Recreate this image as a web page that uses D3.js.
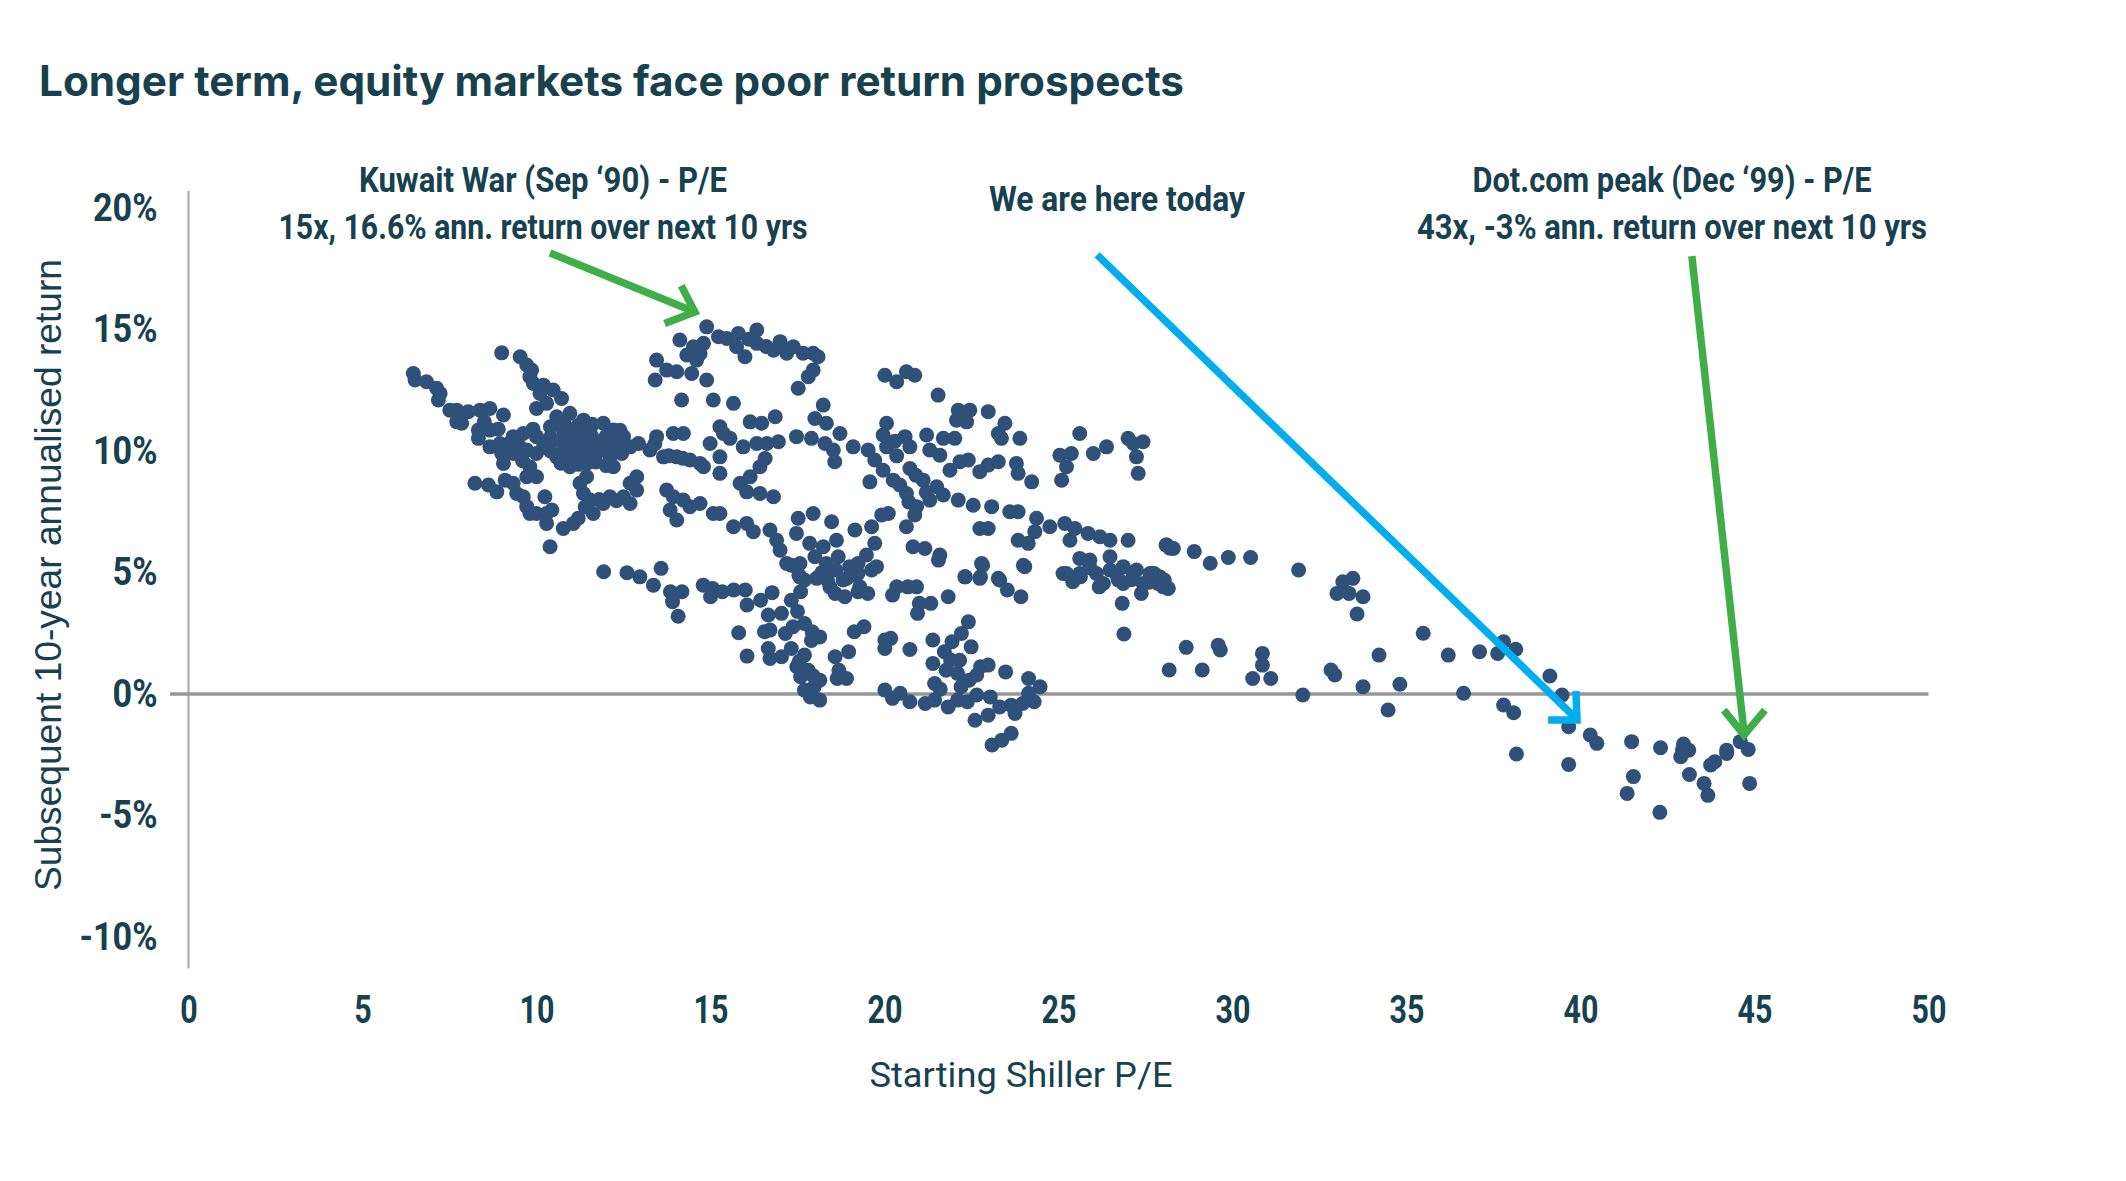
<!DOCTYPE html>
<html>
<head>
<meta charset="utf-8">
<script src="https://cdn.jsdelivr.net/npm/d3@7"></script>
<style>
  body { margin:0; background:#fff; }
  svg { display:block; }
</style>
</head>
<body>
<svg id="chart" width="2126" height="1181"></svg>
<script>
// ---- data ----
var xTicks = [0,5,10,15,20,25,30,35,40,45,50];
var yTicks = [-10,-5,0,5,10,15,20];

// [starting Shiller P/E, subsequent 10y annualised return %]
var points = [
 // 6-13x arm
 [6.46,13.19],[6.51,12.92],[6.84,12.85],[7.13,12.58],[7.23,12.37],[7.18,12.10],[7.51,11.68],[7.71,11.68],
 [8.04,11.62],[7.71,11.20],[7.85,11.14],[8.38,11.68],[8.66,11.75],[9.05,11.48],[8.33,10.86],[8.33,10.52],
 [8.66,10.86],[8.66,10.17],[8.95,10.31],[9.05,9.49],[9.33,10.59],[9.33,9.90],[9.62,10.72],[9.72,10.04],
 [9.81,9.35],[10.00,8.94],[9.72,8.94],[10.00,10.59],[10.20,10.17],
 [8.50,11.20],[8.90,10.90],[9.20,10.30],[9.50,10.20],[9.00,9.90],[9.60,9.60],[10.00,9.90],[9.90,10.90],
 [10.58,11.41],[10.96,11.55],[11.35,11.27],[10.77,10.86],[11.15,10.86],[11.54,10.86],[11.92,11.14],[12.21,10.86],
 [12.50,10.59],[10.39,10.31],[10.77,10.31],[11.15,10.31],[11.54,10.31],[11.92,10.31],[12.30,10.31],[12.69,10.17],
 [10.58,9.76],[10.96,9.76],[11.35,9.76],[11.73,9.90],[12.11,9.76],[10.96,9.35],[11.44,9.49],[12.21,9.35],[12.93,10.31],
 [10.40,11.00],[10.80,11.10],[11.20,11.05],[11.60,11.10],[12.00,10.60],[12.40,10.85],[10.40,10.55],[10.80,10.60],
 [11.20,10.60],[11.60,10.55],[12.00,10.05],[12.40,10.00],[10.40,10.00],[10.80,10.05],[11.20,10.05],[11.60,10.05],
 [10.70,9.50],[11.20,9.45],[11.70,9.55],[12.00,9.40],[12.45,9.90],
 [9.00,14.04],[9.53,13.88],[9.72,13.54],[9.86,13.33],[9.81,13.06],[9.91,12.78],[10.20,12.71],[10.48,12.51],
 [10.72,12.16],[10.00,11.75],[10.29,11.96],[10.10,12.37],
 [8.23,8.67],[8.62,8.60],[8.86,8.32],[9.10,8.80],[9.33,8.67],[9.43,8.25],[9.62,8.12],[9.72,7.71],[9.81,7.43],
 [10.00,7.43],[10.29,7.43],[10.44,7.57],[10.29,7.02],[10.24,8.12],[10.77,6.81],[11.06,7.02],[11.20,7.23],[10.39,6.06],
 [11.25,8.67],[11.44,8.94],[11.35,8.25],[11.54,7.98],[11.63,7.43],[11.92,7.84],[12.11,8.12],[12.50,8.12],
 [12.69,7.84],[12.88,8.39],[12.88,8.94],[12.69,8.67],[11.40,7.70],[11.80,8.00],[12.30,7.95],
 // 13-17x
 [13.45,10.59],[13.26,10.04],[13.65,9.76],[14.03,9.76],[14.41,9.63],[14.70,9.49],[14.80,9.35],[13.93,10.72],
 [14.22,10.72],[13.74,8.39],[13.93,8.12],[14.22,7.98],[13.84,7.57],[14.03,7.16],[14.41,7.71],[14.70,7.84],
 [15.08,7.43],[15.27,7.43],[15.66,6.88],[16.04,7.02],[16.23,6.68],[16.71,6.75],[16.90,6.33],[17.00,5.92],[17.19,5.37],
 [15.27,11.00],[15.37,10.72],[14.99,10.31],[15.56,10.52],[15.27,9.76],[15.27,9.08],[15.94,10.17],[16.33,10.31],
 [16.62,10.31],[16.95,10.38],[16.14,11.20],[16.47,11.14],[16.86,11.41],[15.85,8.67],[16.14,8.94],[16.42,9.35],
 [16.57,9.69],[16.04,8.32],[16.42,8.25],[16.81,8.12],[13.40,10.30],[13.80,9.80],[14.20,9.70],
 [14.12,14.57],[14.89,15.11],[14.51,14.29],[14.80,14.43],[14.32,13.95],[14.60,13.74],[13.45,13.74],[13.74,13.33],
 [14.03,13.26],[13.41,12.92],[14.46,13.19],[14.89,12.92],[15.23,14.70],[15.47,14.63],[15.80,14.84],[15.75,14.29],
 [15.99,13.88],[16.33,14.98],[16.33,14.43],[16.81,14.15],[17.00,14.50],[17.19,14.02],[14.17,12.10],[15.08,12.10],[15.66,11.96],
 [14.70,14.00],[16.10,14.60],[16.60,14.30],
 // 17-29x upper band
 [17.38,14.29],[17.66,14.02],[17.95,14.02],[18.09,13.88],[17.95,13.33],[17.81,13.06],[17.52,12.58],[20.01,13.12],
 [20.35,12.85],[20.63,13.26],[20.87,13.12],[21.54,12.30],[22.12,11.68],[22.45,11.68],[22.07,11.27],[22.36,11.20],
 [22.98,11.62],[23.46,11.14],[23.27,10.72],[23.36,10.52],[23.89,10.52],[25.61,10.72],[25.04,9.83],[25.37,9.90],
 [25.23,9.35],[25.09,8.80],[26.00,9.90],[26.38,10.17],[27.00,10.52],[27.43,10.38],[27.24,9.76],[27.29,9.08],[27.15,10.31],
 [18.24,11.89],[18.00,11.34],[18.33,11.14],[17.47,10.59],[17.90,10.52],[18.29,10.31],[18.72,10.72],[18.53,10.04],
 [18.57,9.56],[19.10,10.17],[19.53,10.04],[19.58,8.73],[20.06,11.14],[19.96,10.66],[20.06,10.17],[19.72,9.63],
 [19.96,9.21],[20.25,8.80],[20.59,10.59],[20.73,10.17],[21.21,10.66],[21.30,10.04],[21.59,9.83],[21.69,10.52],
 [22.02,10.52],[20.73,9.28],[20.44,8.60],[20.63,8.25],[21.11,8.80],[21.50,8.53],[21.69,8.19],[22.12,7.98],
 [21.30,7.98],[20.92,7.71],[20.87,7.37],[20.63,6.88],[21.88,9.21],[22.17,9.56],[22.41,9.63],[22.74,9.15],
 [22.98,9.42],[23.27,9.56],[23.79,9.49],[23.84,9.08],[24.23,8.73],[22.55,7.77],[23.08,7.71],[23.60,7.50],
 [23.84,7.50],[22.74,6.81],[22.98,6.81],[24.37,7.23],[24.75,6.88],[24.32,6.68],[23.84,6.33],[24.13,6.20],
 [25.18,7.02],[25.47,6.81],[25.33,6.33],[25.85,6.61],[26.19,6.47],[26.48,6.33],[27.00,6.33],[28.11,6.13],[28.30,5.99],
 [20.35,9.80],[20.90,9.00],[21.20,8.30],[20.70,7.90],[20.30,10.40],
 [25.61,5.58],[25.90,5.51],[26.48,5.65],[25.23,4.96],[25.61,4.96],[26.09,4.96],[26.48,5.10],[26.86,5.24],
 [27.24,5.10],[27.63,4.96],[27.91,4.82],[26.29,4.55],[26.86,4.55],[27.43,4.55],[28.01,4.41],
 [25.90,5.20],[26.70,4.80],[27.10,4.70],[27.60,4.60],
 [23.99,5.30],[22.79,5.37],[22.31,4.82],[22.74,4.76],[23.27,4.76],[21.59,5.72],[21.16,5.99],[20.82,6.06],
 [17.52,7.23],[17.95,7.43],[18.48,7.09],[19.15,6.75],[19.63,6.88],[19.92,7.37],[20.11,7.43],[19.72,6.20],
 [19.48,5.72],[19.77,5.24],[17.47,6.61],[17.85,6.20],[18.24,6.06],[18.62,6.33],[18.67,5.65],[19.00,5.24],
 [19.24,5.37],[17.57,5.37],[18.00,5.65],[18.33,5.37],[17.57,4.82],[18.05,4.76],[18.81,4.69],[18.43,4.41],
 [19.29,4.41],[20.35,4.41],[20.92,4.41],[18.20,5.00],[18.60,5.10],[19.10,4.90],
 // 12-28x lower band
 [11.93,5.03],[12.60,4.99],[12.97,4.82],[13.58,5.17],[13.36,4.48],[13.85,4.21],[14.18,4.21],[13.91,3.80],
 [14.07,3.20],[14.79,4.48],[15.06,4.34],[15.00,4.00],[15.34,4.21],[15.67,4.28],[16.00,4.28],[16.05,3.66],
 [16.44,3.86],[16.77,4.17],[15.81,2.52],[16.05,1.56],[16.66,3.25],[16.55,2.56],[16.71,2.63],[17.04,3.32],
 [17.32,3.86],[17.59,4.21],[17.70,4.69],[17.54,4.89],[17.32,5.30],[17.15,2.49],[17.37,2.77],[17.70,2.90],
 [17.92,2.56],[18.14,2.35],[16.66,1.87],[16.71,1.46],[17.04,1.53],[17.32,1.87],[17.70,1.60],[17.48,1.12],
 [17.81,0.98],[17.59,0.71],[18.14,0.57],[17.70,0.16],[17.87,-0.12],[18.14,-0.25],[17.98,0.30],
 [17.50,3.40],[17.90,2.20],[17.55,1.35],[17.95,0.75],
 [18.58,1.53],[18.69,0.98],[18.91,0.64],[18.64,0.64],[18.97,1.74],[19.13,2.56],[19.41,2.77],[20.01,2.22],
 [20.18,2.29],[20.01,1.87],[20.73,1.83],[21.39,2.22],[21.39,1.26],[21.44,0.43],[21.72,1.74],[21.94,2.15],
 [22.21,2.49],[22.41,2.97],[22.49,1.94],[21.77,0.98],[22.10,0.85],[22.43,0.57],[22.76,1.12],[22.98,1.19],
 [22.65,0.78],[23.48,0.91],[24.14,0.64],[24.47,0.30],[22.16,1.39],[21.90,1.40],[22.20,0.30],[21.60,0.20],
 [20.01,0.16],[20.23,-0.18],[20.45,0.03],[20.73,-0.32],[21.17,-0.39],[21.44,-0.25],[21.83,-0.53],[22.10,-0.25],
 [22.38,-0.32],[22.65,-0.04],[23.04,-0.12],[23.31,-0.53],[22.98,-0.87],[22.60,-1.08],[23.75,-0.80],[23.64,-0.46],
 [23.97,-0.39],[24.30,-0.32],[24.14,0.03],[23.09,-2.10],[23.37,-1.90],[23.64,-1.62],
 [25.13,4.96],[25.41,4.62],[25.63,4.83],[26.17,4.41],[26.83,3.73],[26.72,4.69],[27.16,4.96],[27.66,4.96],
 [28.15,4.34],[27.38,4.14],[28.04,4.69],[26.88,2.47],
 [18.58,4.14],[18.86,4.00],[19.24,4.21],[19.52,4.14],[18.36,4.69],[18.91,4.76],[19.24,4.96],[19.63,5.10],
 [20.23,4.07],[20.67,4.41],[21.00,3.73],[20.95,3.32],[21.33,3.73],[21.83,4.00],[21.55,5.51],[22.32,4.82],
 [22.76,4.82],[22.82,5.30],[23.31,4.69],[23.53,4.28],[23.92,4.00],[24.03,5.24],
 // 28x and up
 [28.09,6.13],[28.20,6.00],[28.90,5.86],[29.36,5.38],[29.88,5.62],[30.52,5.62],[31.90,5.10],[27.75,4.96],
 [27.86,4.55],[28.15,4.35],[33.17,4.62],[33.46,4.76],[33.00,4.14],[33.35,4.14],[33.75,4.00],[33.58,3.29],
 [35.48,2.50],[28.67,1.92],[29.59,2.01],[29.65,1.81],[28.18,0.99],[29.13,0.99],[30.86,1.67],[30.86,1.19],
 [30.58,0.64],[31.10,0.64],[32.02,-0.04],[32.83,0.99],[32.94,0.78],[33.75,0.30],[34.21,1.60],[34.81,0.40],
 [34.47,-0.66],[36.20,1.60],[36.64,0.03],[37.10,1.74],[37.62,1.67],[37.79,2.15],[38.14,1.84],[39.12,0.74],
 [39.47,-0.04],[37.79,-0.45],[38.08,-0.77],[38.16,-2.47],[39.66,-1.35],[39.66,-2.90],[40.28,-1.69],[40.47,-2.03],
 [41.47,-1.96],[41.52,-3.40],[41.34,-4.09],[42.30,-2.21],[42.28,-4.87],[42.93,-2.28],[43.11,-2.31],[42.88,-2.58],
 [43.13,-3.31],[43.55,-3.68],[43.66,-4.17],[43.74,-2.92],[43.86,-2.79],[44.20,-2.31],[44.20,-2.45],[44.59,-1.96],
 [44.82,-2.28],[44.86,-3.68],[42.96,-2.06]
];

// annotation arrows in data units: shaft from -> to, head = [arm, tip, arm]
var arrows = [
  {color:"#3fae49", from:[10.39,18.15], to:[14.55,15.72], head:[[13.68,15.25],[14.55,15.72],[14.16,16.80]]},
  {color:"#00aeef", from:[26.11,18.07], to:[39.88,-1.02], head:[[39.87,0.12],[39.90,-1.07],[39.07,-1.07]]},
  {color:"#3fae49", from:[43.20,18.02], to:[44.70,-1.60], head:[[44.12,-0.66],[44.70,-1.69],[45.30,-0.66]]}
];

var notes = [
  {lines:["Kuwait War (Sep \u201890) - P/E","15x, 16.6% ann. return over next 10 yrs"], cx:543, widths:[368,529]},
  {lines:["We are here today"], cx:1117, widths:[256], base:211},
  {lines:["Dot.com peak (Dec \u201899) - P/E","43x, -3% ann. return over next 10 yrs"], cx:1672, widths:[399,510]}
];

var ink = "#17414f";
var dotColor = "#2f5079";
var condensed = "Roboto, 'Liberation Sans', sans-serif";

var svg = d3.select("#chart");

var x = d3.scaleLinear().domain([0,50]).range([188.5,1928.5]);
var y = d3.scaleLinear().domain([-10,20]).range([937,208]);

// title
svg.append("text")
   .attr("x",39).attr("y",96)
   .attr("font-family","Inter, 'Open Sans', sans-serif")
   .attr("font-weight",700).attr("font-size",42)
   .attr("fill",ink)
   .attr("textLength",1145).attr("lengthAdjust","spacingAndGlyphs")
   .text("Longer term, equity markets face poor return prospects");

// y axis line + zero line
svg.append("line")
   .attr("x1",x(0)).attr("x2",x(0))
   .attr("y1",y(20.7)).attr("y2",y(-11.3))
   .attr("stroke","#a6a6a6").attr("stroke-width",2);

svg.append("line")
   .attr("x1",x(-0.53)).attr("x2",x(50))
   .attr("y1",y(0)).attr("y2",y(0))
   .attr("stroke","#969696").attr("stroke-width",3.5);

// y axis ticks
var gy = svg.append("g")
   .call(d3.axisLeft(y).tickValues(yTicks).tickSize(0).tickPadding(0)
           .tickFormat(function(d){ return d + "%"; }));
gy.select(".domain").remove();
gy.selectAll("text")
   .attr("x",0)
   .attr("transform","translate(" + (x(0)-31) + ",0) scale(0.9,1)")
   .attr("font-family",condensed).attr("font-weight",700).attr("font-size",38)
   .attr("fill",ink);

// x axis ticks
var gx = svg.append("g")
   .attr("transform","translate(0,969)")
   .call(d3.axisBottom(x).tickValues(xTicks).tickSize(0).tickPadding(0));
gx.select(".domain").remove();
gx.selectAll(".tick text")
   .attr("x",0).attr("y",0).attr("dy",null)
   .attr("transform","translate(0,54) scale(0.8,1)")
   .attr("font-family",condensed).attr("font-weight",700).attr("font-size",38)
   .attr("fill",ink);

// axis titles
svg.append("text")
   .attr("x",1021).attr("y",1087)
   .attr("text-anchor","middle")
   .attr("font-family",condensed).attr("font-size",35)
   .attr("fill",ink)
   .attr("textLength",303).attr("lengthAdjust","spacingAndGlyphs")
   .text("Starting Shiller P/E");

svg.append("text")
   .attr("transform","translate(61,575) rotate(-90)")
   .attr("text-anchor","middle")
   .attr("font-family","'Liberation Sans', Arial, sans-serif").attr("font-size",36)
   .attr("fill",ink)
   .attr("textLength",632).attr("lengthAdjust","spacingAndGlyphs")
   .text("Subsequent 10-year annualised return");

// dots
svg.append("g").selectAll("circle")
   .data(points)
   .enter().append("circle")
   .attr("cx",function(d){ return x(d[0]); })
   .attr("cy",function(d){ return y(d[1]); })
   .attr("r",7.5)
   .attr("fill",dotColor);

// arrows
var ga = svg.append("g").attr("fill","none").attr("stroke-width",7.5);
arrows.forEach(function(a){
   ga.append("line")
     .attr("x1",x(a.from[0])).attr("y1",y(a.from[1]))
     .attr("x2",x(a.to[0])).attr("y2",y(a.to[1]))
     .attr("stroke",a.color);
   ga.append("path")
     .attr("d",d3.line().x(function(p){ return x(p[0]); }).y(function(p){ return y(p[1]); })(a.head))
     .attr("stroke",a.color).attr("stroke-linejoin","miter");
});

// annotation text
notes.forEach(function(n){
   n.lines.forEach(function(t,i){
      svg.append("text")
         .attr("x",n.cx).attr("y",(n.base || 192) + i*47)
         .attr("text-anchor","middle")
         .attr("font-family",condensed).attr("font-weight",700).attr("font-size",35)
         .attr("fill",ink)
         .attr("textLength",n.widths[i]).attr("lengthAdjust","spacingAndGlyphs")
         .text(t);
   });
});
</script>
</body>
</html>
